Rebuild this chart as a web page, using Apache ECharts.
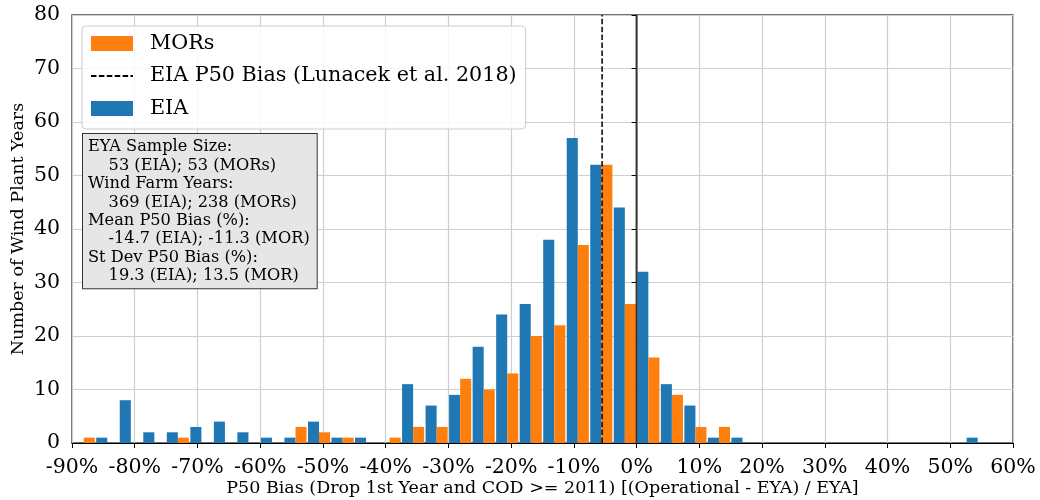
<!DOCTYPE html>
<html>
<head>
<meta charset="utf-8">
<script src="https://cdn.jsdelivr.net/npm/echarts@6/dist/echarts.min.js"></script>
<style>
html,body{margin:0;padding:0;background:#fff;}
#chart{width:1040px;height:500px;}
</style>
</head>
<body>
<div id="chart"></div>
<script>
// Histogram bin starts (%), bin width 3.75 %
const binStarts = [-90, -86.25, -82.5, -78.75, -75, -71.25, -67.5, -63.75, -60, -56.25,
  -52.5, -48.75, -45, -41.25, -37.5, -33.75, -30, -26.25, -22.5, -18.75,
  -15, -11.25, -7.5, -3.75, 0, 3.75, 7.5, 11.25, 15, 18.75,
  22.5, 26.25, 30, 33.75, 37.5, 41.25, 45, 48.75, 52.5, 56.25];
const eiaCounts = [0, 1, 8, 2, 2, 3, 4, 2, 1, 1,
  4, 1, 1, 0, 11, 7, 9, 18, 24, 26,
  38, 57, 52, 44, 32, 11, 7, 1, 1, 0,
  0, 0, 0, 0, 0, 0, 0, 0, 1, 0];
const morCounts = [1, 0, 0, 0, 1, 0, 0, 0, 0, 3,
  2, 1, 0, 1, 3, 3, 12, 10, 13, 20,
  22, 37, 52, 26, 16, 9, 3, 3, 0, 0,
  0, 0, 0, 0, 0, 0, 0, 0, 0, 0];
const lunacekBias = -5.5;
const zeroBias = 0;
const xTickMin = -90, xTickMax = 60, xTickStep = 10;
const yTickMin = 0, yTickMax = 80, yTickStep = 10;
const statsLines = [
  'EYA Sample Size:',
  '    53 (EIA); 53 (MORs)',
  'Wind Farm Years:',
  '    369 (EIA); 238 (MORs)',
  'Mean P50 Bias (%):',
  '    -14.7 (EIA); -11.3 (MOR)',
  'St Dev P50 Bias (%):',
  '    19.3 (EIA); 13.5 (MOR)'
];
const names = {
  mor: 'MORs',
  eia: 'EIA',
  lun: 'EIA P50 Bias (Lunacek et al. 2018)'
};

const FONT = '"DejaVu Serif", serif';
const chart = echarts.init(document.getElementById('chart'), null, {renderer: 'canvas'});
const option = {
  animation: false,
  backgroundColor: '#ffffff',
  grid: {left: 72, right: 27, top: 15, bottom: 57, show: true, borderColor: '#444', borderWidth: 1.5,
    containLabel: false, outerBoundsMode: 'none'},
  xAxis: [
    {type: 'category', data: binStarts.map(String), show: false, position: 'top', boundaryGap: true},
    {type: 'value', position: 'bottom', min: xTickMin, max: xTickMax, interval: xTickStep,
      name: 'P50 Bias (Drop 1st Year and COD >= 2011) [(Operational - EYA) / EYA]',
      nameLocation: 'middle', nameGap: 45, nameMoveOverlap: false,
      nameTextStyle: {fontFamily: FONT, fontSize: 17.5, color: '#000', verticalAlign: 'middle'},
      axisLine: {show: true, onZero: false, lineStyle: {color: '#000', width: 1}},
      axisTick: {show: true, length: 5, lineStyle: {color: '#000', width: 1}},
      axisLabel: {fontFamily: FONT, fontSize: 20.5, color: '#000', margin: 14, formatter: v => v + '%'},
      splitLine: {show: true, lineStyle: {color: '#cfcfcf', width: 1.2}}
    }
  ],
  yAxis: [{
    type: 'value', min: yTickMin, max: yTickMax, interval: yTickStep,
    name: 'Number of Wind Plant Years', nameLocation: 'middle', nameGap: 54, nameMoveOverlap: false,
    nameTextStyle: {fontFamily: FONT, fontSize: 17.5, color: '#000', verticalAlign: 'middle'},
    axisLine: {show: true, lineStyle: {color: '#000', width: 1}},
    axisTick: {show: true, length: 5, lineStyle: {color: '#000', width: 1}},
    axisLabel: {fontFamily: FONT, fontSize: 20.5, color: '#000', margin: 12},
    splitLine: {show: true, lineStyle: {color: '#cfcfcf', width: 1.2}}
  }],
  legend: {
    orient: 'vertical', left: 82, top: 26,
    padding: [7, 9, 10, 8],
    itemWidth: 42, itemHeight: 15, itemGap: 11.5,
    backgroundColor: 'rgba(255,255,255,0.85)', borderColor: '#cccccc', borderWidth: 1, borderRadius: 4,
    textStyle: {fontFamily: FONT, fontSize: 20.7, color: '#000', padding: [0, 0, 0, 12], lineHeight: 19},
    data: [
      {name: names.mor, icon: 'rect'},
      {name: names.lun, itemStyle: {opacity: 0}},
      {name: names.eia, icon: 'rect'}
    ]
  },
  graphic: [{
    type: 'text', left: 82, top: 133, z: 100,
    style: {
      text: statsLines.join('\n'),
      font: '16.2px "DejaVu Serif"', fill: '#000', lineHeight: 18.4,
      backgroundColor: '#e6e6e6', borderColor: '#333', borderWidth: 1,
      padding: [4, 7, 3, 5]
    }
  }],
  series: [
    {name: names.eia, type: 'bar', xAxisIndex: 0, yAxisIndex: 0, data: eiaCounts,
      itemStyle: {color: '#1f77b4'}, barGap: '0%', barCategoryGap: '6%', z: 2},
    {name: names.mor, type: 'bar', xAxisIndex: 0, yAxisIndex: 0, data: morCounts,
      itemStyle: {color: '#ff7f0e'}, barGap: '0%', barCategoryGap: '6%', z: 2},
    {name: names.lun, type: 'line', xAxisIndex: 1, yAxisIndex: 0, symbol: 'none', z: 5,
      data: [[lunacekBias, yTickMin], [lunacekBias, yTickMax]],
      lineStyle: {color: '#000', width: 1.5, type: [5.5, 2.4]}, itemStyle: {color: '#000'}},
    {name: 'zero', type: 'line', xAxisIndex: 1, yAxisIndex: 0, symbol: 'none', z: 5,
      data: [[zeroBias, yTickMin], [zeroBias, yTickMax]],
      lineStyle: {color: '#333', width: 2}}
  ]
};
chart.setOption(option);
</script>
</body>
</html>
